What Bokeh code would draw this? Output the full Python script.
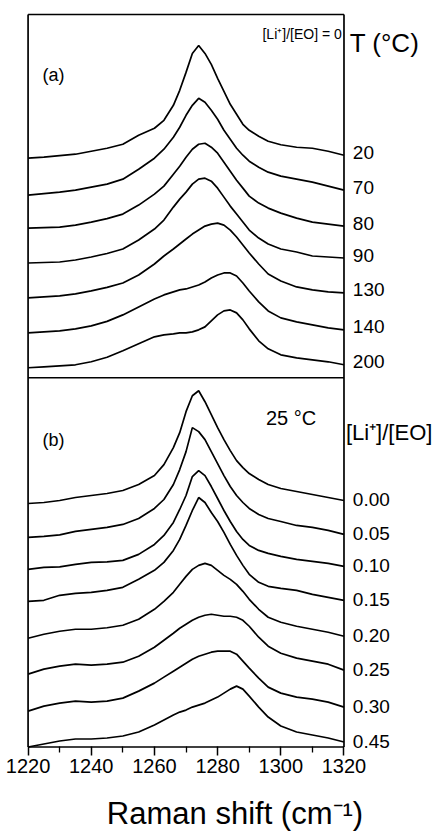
from bokeh.plotting import figure
from bokeh.models import Range1d, FixedTicker, Label
from bokeh.core.properties import value
from bokeh.embed import file_html
from bokeh.resources import INLINE

FONT = "Liberation Sans"

# Raman shift grid (cm^-1)
shift = [1220, 1225, 1230, 1235, 1240, 1245, 1250, 1255, 1260, 1263, 1266, 1268, 1270, 1272,
         1274, 1276, 1278, 1280, 1282, 1284, 1286, 1288, 1290, 1293, 1296, 1300, 1305, 1310,
         1315, 1320]

# (a) temperature series, [Li+]/[EO] = 0 (intensity, arb. units)
temps = ["20", "70", "80", "90", "130", "140", "200"]
t20 = [-3, -2, -0.5, 1, 4, 7, 11, 20, 27, 35, 50, 65, 83, 102, 110, 102, 91, 77, 64, 51, 41, 31, 25, 19, 14, 10.5, 8, 7, 4, 0]
t70 = [-5, -3.5, -2, 0, 3, 6, 11, 21, 32, 41, 53, 63, 75, 85, 92, 88, 80, 71, 60, 51, 42, 35, 29, 23, 18, 14, 11, 8, 4, 0]
t80 = [-2, -1.5, -1, 1, 4, 7.5, 12, 21, 32, 40, 52, 60, 69, 77, 82, 83, 79, 73, 64, 55, 46, 38, 30, 23, 18, 13, 8, 4, 2, 0]
t90 = [-5, -4.5, -4, -2, 1, 4.5, 9, 18, 29, 38, 51, 59, 66, 74, 79, 80, 77, 70, 61, 52, 44, 36, 28, 20, 14, 9, 6, 2, 1, 0]
t130 = [-5, -4, -3, -1, 2, 5.5, 10, 18, 29, 37, 44, 49, 54, 59, 63, 67, 69, 70, 68, 63, 56, 48, 40, 29, 19, 12, 6, 3, 1, 0]
t140 = [-3, -2, -1, 1, 4, 8.5, 15, 23, 31, 35, 38, 40, 41, 43, 45, 48, 52, 55, 57, 57, 54, 47, 39, 28, 19, 12, 8, 5, 2, 0]
t200 = [-3, -2, -1, 0, 3, 7.5, 14, 21, 28, 30, 31, 32, 32, 33, 35, 38, 44, 50, 54, 55, 52, 45, 36, 24, 16, 10, 7, 5, 3, 0]
offsets_a = [593, 558, 522, 490, 455, 418, 383]

# (b) salt concentration series at 25 C
conc = ["0.00", "0.05", "0.10", "0.15", "0.20", "0.25", "0.30", "0.45"]
c000 = [-3, -2, 0, 3, 5, 7, 10, 16, 25, 36, 53, 68, 89, 105, 110, 99, 86, 73, 61, 50, 40, 33, 27, 21, 16, 12, 9, 6, 3, 0]
c005 = [-3, -2, -0.5, 3, 5, 7, 10, 16, 26, 35, 50, 65, 83, 107, 103, 95, 83, 71, 59, 48, 39, 32, 26, 20, 16, 13, 9, 7, 4, 0]
c010 = [-3, -1, -0.5, 2, 4, 4.5, 6, 12, 22, 31, 44, 57, 71, 90, 96, 91, 80, 68, 56, 45, 35, 27, 21, 16, 13, 10, 7, 5, 3, 0]
c015 = [-1, 0, 5, 7, 8, 10, 13, 21, 30, 38, 50, 61, 75, 90, 103, 98, 88, 79, 68, 56, 45, 35, 26, 18, 14, 12, 10, 6, 3, 0]
c020 = [-2, 2, 5, 7, 7, 8.5, 11, 17, 27, 35, 44, 52, 60, 67, 71, 73, 71, 66, 61, 57, 52, 45, 37, 27, 19, 14, 10, 7, 4, 0]
c025 = [-4, 1, 4, 6, 5, 6, 8, 14, 23, 30, 37, 42, 46, 50, 53, 55, 56, 55, 54, 54, 53, 50, 44, 33, 24, 17, 12, 9, 6, 0]
c030 = [-4, 1, 4, 6, 5, 6, 9, 16, 24, 30, 36, 40, 44, 48, 51, 53, 55, 56, 56, 56, 53, 46, 39, 29, 20, 14, 10, 8, 5, 0]
c045 = [-5, -2, 1, 3, 3, 4, 6, 10, 17, 22, 27, 30, 32, 35, 37, 39, 42, 45, 49, 53, 56, 53, 46, 35, 25, 16, 10, 7, 4, 0]
offsets_b = [247, 213, 181, 147, 111, 77, 40, 5]

x_ticks = [1220, 1240, 1260, 1280, 1300, 1320]
x_minor = [1230, 1250, 1270, 1290, 1310]
x_lo, x_hi = 1220, 1320
panel_top, panel_split, panel_bottom = 734, 370, 0

series_a = [t20, t70, t80, t90, t130, t140, t200]
series_b = [c000, c005, c010, c015, c020, c025, c030, c045]

# The frame extends into the right margin so that the series labels can be drawn as text;
# the visible plot box (1220-1320) is drawn with segments.
p = figure(width=443, height=833, output_backend="svg", toolbar_location=None,
           x_range=Range1d(1219.5, 1351.5), y_range=Range1d(-1.5, 736),
           y_axis_location=None,
           min_border_left=26, min_border_right=0, min_border_top=12, min_border_bottom=83)
p.grid.visible = False
p.outline_line_color = None

for vals, off in zip(series_a, offsets_a):
    p.line(shift, [v + off for v in vals], line_color="black", line_width=1.7)
for vals, off in zip(series_b, offsets_b):
    p.line(shift, [v + off for v in vals], line_color="black", line_width=1.7)

# plot box and divider between panels
p.segment(x0=[x_lo, x_hi, x_lo, x_lo, x_lo],
          y0=[panel_bottom, panel_bottom, panel_top, panel_bottom, panel_split],
          x1=[x_lo, x_hi, x_hi, x_hi, x_hi],
          y1=[panel_top, panel_top, panel_top, panel_bottom, panel_split],
          line_color="black", line_width=1.7)

# bottom axis
ax = p.xaxis[0]
ax.ticker = FixedTicker(ticks=x_ticks, minor_ticks=x_minor)
ax.axis_line_color = None
ax.major_tick_out = 7
ax.major_tick_in = 2
ax.minor_tick_out = 4
ax.minor_tick_in = 2
ax.major_tick_line_width = 1.5
ax.minor_tick_line_width = 1.3
ax.major_label_text_font = FONT
ax.major_label_text_font_size = "20px"
ax.major_label_text_color = "black"
ax.major_label_standoff = 3
ax.axis_label = "Raman shift (cm\u207b\u00b9)"
ax.axis_label_text_font = FONT
ax.axis_label_text_font_size = "31px"
ax.axis_label_text_font_style = "normal"
ax.axis_label_text_color = "black"
ax.axis_label_standoff = 20

# right-side series labels
lab_x = 1322.8
lab_y = [o + 3 for o in offsets_a] + [o + 1 for o in offsets_b]
p.text(x=[lab_x] * len(lab_y), y=lab_y, text=temps + conc,
       text_font=value(FONT), text_font_size="19px", text_color="black",
       text_align="left", text_baseline="middle")

p.text(x=[1321.8], y=[705], text=["T (\u00b0C)"], text_font=value(FONT),
       text_font_size="26px", text_color="black", text_align="left", text_baseline="middle")
p.text(x=[1320.6], y=[315], text=["[Li\u207a]/[EO]"], text_font=value(FONT),
       text_font_size="22px", text_color="black", text_align="left", text_baseline="middle")

def lab(x, y, text, size, align="left"):
    p.add_layout(Label(x=x, y=y, text=text, text_font=FONT, text_font_size=size,
                       text_align=align, text_baseline="middle", text_color="black"))

lab(1224.6, 673, "(a)", "18px")
lab(1224.6, 308, "(b)", "18px")
lab(1295.3, 330, "25 \u00b0C", "20px")
lab(1319.3, 714, "[Li\u207a]/[EO] = 0", "14px", align="right")

open("out.html", "w").write(file_html(p, INLINE))
